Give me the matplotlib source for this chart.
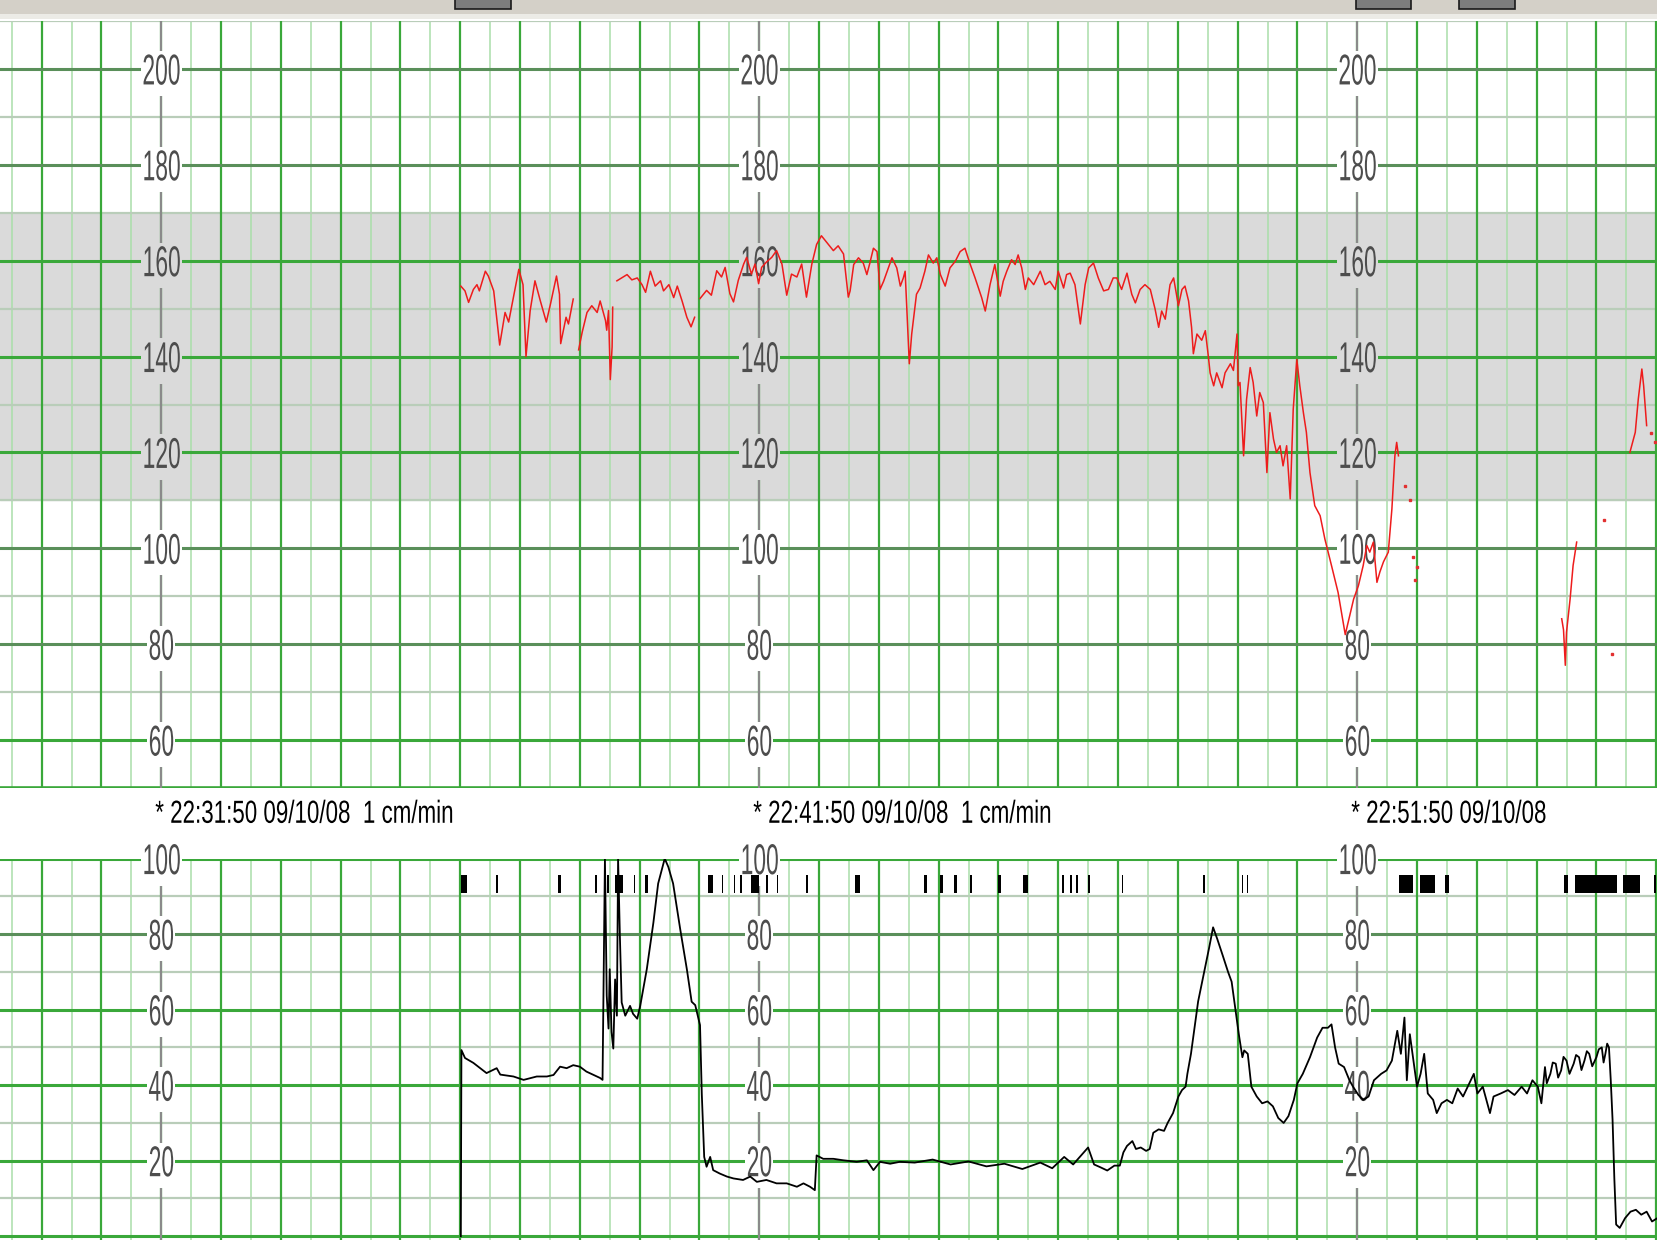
import numpy as np
import matplotlib.pyplot as plt
import matplotlib.patheffects as pe
from matplotlib.patches import Rectangle
from matplotlib.transforms import Affine2D

nan = np.nan

# ---- fetal heart rate (minutes from 22:31:50, bpm); nan = signal loss
fhr_time = [5.01, 5.08, 5.14, 5.22, 5.28, 5.32, 5.42, 5.47, 5.56, 5.66, 5.75, 5.81, 5.98, 6.05, 6.10,
            6.17, 6.25, 6.34, 6.44, 6.51, 6.61, 6.66, 6.68, 6.77, 6.81, 6.89, nan,
            6.98, 7.04, 7.12, 7.20, 7.29, 7.34, 7.43, 7.45, 7.48, 7.51, 7.54, 7.55, nan,
            7.62, 7.70, 7.79, 7.87, 7.96, 8.04, 8.10, 8.18, 8.26, 8.35, 8.40, 8.49, 8.57, 8.63,
            8.71, 8.79, 8.86, 8.92, nan,
            9.01, 9.12, 9.20, 9.29, 9.37, 9.43, 9.51, 9.57, 9.65, 9.74, 9.79, 9.87, 9.93, 9.99,
            10.04, 10.12, 10.21, 10.29, 10.38, 10.46, 10.54, 10.63, 10.71, 10.79, 10.88, 10.96,
            11.04, 11.13, 11.24, 11.32, 11.41, 11.49,
            11.52, 11.58, 11.66, 11.74, 11.80, 11.85, 11.91, 11.97, 12.02, 12.08, 12.16, 12.22,
            12.30, 12.36, 12.41, 12.44, 12.51, 12.55, 12.63, 12.69, 12.77, 12.83, 12.91, 12.97,
            13.03, 13.11, 13.19, 13.28, 13.36, 13.44, 13.53, 13.61, 13.72, 13.78, 13.86, 13.94,
            14.03, 14.08, 14.14, 14.22, 14.28, 14.33, 14.39, 14.45, 14.50, 14.59, 14.70, 14.78,
            14.86, 14.95, 15.00, 15.09, 15.14, 15.20, 15.28, 15.37, 15.45, 15.51, 15.59, 15.67,
            15.76, 15.84, 15.92, 15.98, 16.06, 16.15, 16.23, 16.29, 16.37, 16.45, 16.54, 16.62,
            16.68, 16.73, 16.79, 16.87, 16.93, 17.01, 17.07, 17.12, 17.18, 17.23, 17.26, 17.32,
            17.40, 17.46, 17.51, 17.54, 17.60, 17.65, 17.74, 17.79, 17.88, 17.93, 17.99, 18.01,
            18.04, 18.10, 18.15, 18.21, 18.26, 18.32, 18.37, 18.43, 18.49, 18.54, 18.60, 18.65,
            18.71, 18.76, 18.82, 18.88, 18.93, 18.99, 19.04, 19.10, 19.15, 19.21, 19.29, 19.38,
            19.46, 19.57, 19.68, 19.80, 19.94, 20.02, 20.10, 20.16, 20.21, 20.27, 20.33, 20.38,
            20.44, 20.52, 20.58, 20.63, 20.66, 20.69, nan,
            23.42, 23.45, 23.48, 23.50, 23.56, 23.61, 23.67, nan,
            24.56, 24.65, 24.70, 24.76, 24.79, 24.84]
fhr_bpm = [154.7, 153.7, 151.3, 154.0, 155.0, 153.7, 157.8, 156.8, 153.7, 142.4, 149.2, 147.2, 158.2, 155.0, 140.0,
           149.6, 155.8, 151.6, 147.2, 151.0, 156.8, 153.0, 142.7, 148.2, 146.8, 152.0, nan,
           141.4, 145.1, 149.2, 150.6, 149.2, 151.6, 147.5, 145.5, 149.6, 135.2, 142.0, 150.3, nan,
           155.8, 156.4, 157.1, 156.0, 156.4, 155.0, 153.4, 157.8, 154.7, 155.8, 153.7, 155.0, 152.3, 154.7,
           151.6, 148.2, 146.2, 148.2, nan,
           152.1, 153.8, 152.8, 157.9, 156.6, 158.6, 153.1, 151.4, 155.9, 159.3, 160.7, 157.2, 159.3, 155.2,
           158.6, 159.7, 160.7, 162.1, 159.3, 152.8, 157.2, 156.6, 159.3, 152.4, 159.3, 163.4,
           165.2, 163.8, 162.1, 163.1, 161.4, 152.4,
           153.7, 159.2, 160.6, 159.5, 157.1, 159.5, 162.6, 161.9, 154.0, 155.7, 158.5, 160.6,
           158.5, 154.7, 156.4, 157.8, 138.5, 144.7, 153.0, 154.3, 157.8, 161.2, 159.5, 160.6,
           157.1, 154.7, 158.5, 159.9, 161.9, 162.6, 159.2, 156.4, 152.3, 149.5, 155.0, 159.2,
           152.6, 155.7, 157.8, 160.2, 159.2, 161.2, 158.5, 154.0, 156.4, 155.0, 157.8, 155.0,
           155.7, 154.0, 157.8, 154.3, 157.1, 157.4, 155.0, 146.8, 155.0, 158.5, 159.5, 156.4,
           153.7, 154.0, 156.4, 156.4, 154.0, 157.4, 153.0, 151.2, 154.0, 155.0, 154.0, 149.9,
           146.1, 149.5, 147.8, 155.0, 156.4, 150.6, 154.0, 154.7, 151.6, 146.1, 140.6, 144.7,
           143.4, 145.4, 140.1, 136.6, 133.9, 136.6, 133.5, 136.6, 138.5, 137.1, 144.7, 133.9,
           134.6, 119.3, 131.1, 137.7, 134.6, 127.6, 132.5, 130.4, 115.8, 128.3, 122.8, 120.0,
           121.4, 117.2, 121.4, 110.3, 129.0, 139.4, 133.9, 128.3, 124.2, 115.8, 108.9, 106.8,
           101.9, 96.4, 90.8, 82.0, 89.4, 92.2, 96.4, 100.6, 99.2, 101.3, 92.9, 95.1,
           97.2, 99.2, 108.2, 119.3, 122.1, 119.3, nan,
           85.3, 83.0, 75.6, 82.5, 89.4, 96.4, 101.3, nan,
           120.0, 124.2, 131.1, 137.4, 133.9, 125.6]

# isolated FHR samples
dot_time = [20.80, 20.88, 20.94, 20.97, 21.00, 24.12, 24.26, 24.92, 24.98]
dot_bpm = [112.9, 110.1, 98.2, 93.3, 96.1, 105.9, 77.9, 124.1, 122.1]

# ---- uterine activity (TOCO)
toco_time = [5.01, 5.02, 5.08, 5.22, 5.44, 5.61, 5.67, 5.89, 6.06, 6.28, 6.45, 6.56, 6.67, 6.78,
             6.89, 7.00, 7.11, 7.23, 7.34, 7.38, 7.40, 7.42, 7.45, 7.48, 7.50, 7.53, 7.56, 7.59,
             7.62, 7.64, 7.67, 7.70, 7.76, 7.84, 7.89, 7.96, 8.01, 8.12, 8.23, 8.31, 8.42, 8.48,
             8.56, 8.68, 8.79, 8.87, 8.93, 9.01, 9.04, 9.08, 9.12, 9.18, 9.23, 9.34, 9.46, 9.57,
             9.73, 9.85, 9.96, 10.12, 10.29, 10.46, 10.63, 10.74, 10.85, 10.93, 10.96, 11.07,
             11.24, 11.41, 11.63, 11.80, 11.91, 12.02, 12.19, 12.35, 12.6, 12.9, 13.2, 13.5,
             13.8, 14.1, 14.4, 14.7, 14.9, 15.1, 15.25, 15.5, 15.6,
             15.70, 15.82, 15.94, 16.03, 16.09, 16.15, 16.24, 16.30, 16.38, 16.47, 16.53, 16.59,
             16.68, 16.77, 16.83, 16.92, 17.01, 17.07, 17.13, 17.16, 17.22, 17.28, 17.34, 17.43,
             17.52, 17.59, 17.66, 17.75, 17.84, 17.90, 17.96, 18.02, 18.08, 18.11, 18.17, 18.23,
             18.32, 18.41, 18.50, 18.59, 18.68, 18.77, 18.85, 18.94, 19.00, 19.09, 19.21, 19.33,
             19.42, 19.51, 19.57, 19.63, 19.69, 19.78, 19.87, 19.93, 20.02, 20.10, 20.19, 20.28,
             20.40, 20.49, 20.58, 20.67, 20.73, 20.79, 20.83, 20.88, 20.94, 21.00, 21.06, 21.12,
             21.18, 21.27, 21.33, 21.41, 21.50, 21.59, 21.68, 21.77, 21.86, 21.95, 22.01, 22.10,
             22.22, 22.28, 22.40, 22.52, 22.63, 22.75, 22.84, 22.93, 23.02, 23.08, 23.14, 23.17,
             23.23, 23.27, 23.32, 23.36, 23.41, 23.45, 23.50, 23.55, 23.62, 23.66, 23.71, 23.75,
             23.80, 23.84, 23.88, 23.93, 24.00, 24.04, 24.09, 24.12, 24.15, 24.18, 24.21, 24.24,
             24.27, 24.30, 24.33, 24.39, 24.48, 24.57, 24.66, 24.75, 24.84, 24.93, 25.02]
toco_val = [0.0, 49.3, 47.2, 45.9, 43.2, 44.5, 42.8, 42.3, 41.4, 42.3, 42.3, 42.7, 44.9, 44.5,
            45.3, 44.9, 43.6, 42.7, 41.9, 41.4, 70.7, 100.0, 63.7, 55.0, 70.7, 54.1, 49.7, 68.0,
            58.4, 100.0, 79.5, 61.9, 58.4, 61.0, 58.9, 57.6, 61.0, 70.7, 83.0, 93.4, 100.0, 97.8,
            93.4, 81.2, 70.7, 62.1, 61.2, 55.9, 37.6, 21.0, 18.4, 21.0, 17.5, 16.6, 15.8, 15.3,
            14.9, 15.8, 14.4, 14.9, 14.0, 14.0, 13.1, 14.0, 13.1, 12.2, 21.4, 20.5,
            20.5, 20.1, 19.7, 20.1, 17.5, 19.7, 19.2, 19.7, 19.5, 20.3, 19.0, 19.8,
            18.5, 19.2, 17.8, 19.5, 18.0, 21.0, 19.0, 23.5, 19.0,
            18.3, 17.4, 18.7, 18.7, 22.2, 23.9, 25.2, 23.1, 23.5, 22.6, 23.1, 27.4,
            28.3, 27.9, 30.0, 32.6, 37.0, 38.7, 39.6, 43.0, 48.3, 55.2, 62.2, 69.2,
            76.1, 81.8, 78.7, 74.4, 70.0, 67.4, 60.5, 53.5, 47.4, 49.2, 48.3, 39.6,
            37.0, 35.2, 35.7, 34.4, 31.3, 30.0, 31.8, 36.1, 40.5, 43.0, 47.4, 52.6,
            55.2, 55.2, 56.1, 50.0, 45.7, 44.8, 41.3, 39.6, 37.4, 36.1, 37.0, 41.3,
            43.0, 43.9, 46.5, 54.4, 48.3, 57.9, 41.3, 53.5, 46.5, 39.6, 43.0, 48.3,
            37.8, 36.1, 32.6, 35.2, 36.1, 35.2, 39.1, 37.0, 40.0, 43.0, 37.8, 39.6,
            32.6, 37.0, 37.8, 38.7, 37.4, 39.6, 37.8, 41.3, 39.6, 35.2, 44.8, 40.5,
            43.0, 46.0, 45.7, 42.0, 43.9, 47.5, 46.5, 43.0, 45.7, 48.0, 47.4, 44.0,
            46.5, 49.0, 48.3, 45.0, 47.4, 49.5, 50.0, 46.0, 48.3, 51.0, 50.0, 41.3,
            30.9, 15.2, 3.1, 2.2, 4.8, 6.5, 7.0, 5.7, 6.5, 3.9, 4.8]

# fetal movement marks: start (min) and duration (min)
move_start = [5.01, 5.60, 6.63, 7.25, 7.45, 7.59, 7.90, 8.09, 9.15, 9.37, 9.57, 9.68, 9.87, 10.12,
              10.29, 10.79, 11.60, 12.76, 13.03, 13.26, 13.52, 14.00, 14.41, 15.06, 15.19, 15.30,
              15.50, 16.07, 17.42, 18.07, 18.15, 20.70, 21.05, 21.47, 23.45, 23.64, 24.45, 24.96]
move_len = [0.10, 0.03, 0.06, 0.03, 0.03, 0.13, 0.03, 0.05, 0.08, 0.03, 0.03, 0.03, 0.12, 0.03,
            0.03, 0.03, 0.09, 0.04, 0.04, 0.04, 0.04, 0.05, 0.09, 0.03, 0.04, 0.03,
            0.03, 0.02, 0.03, 0.02, 0.02, 0.24, 0.25, 0.07, 0.07, 0.70, 0.28, 0.03]

fhr_labels = [200, 180, 160, 140, 120, 100, 80, 60]
toco_labels = [100, 80, 60, 40, 20]
label_minutes = [0, 10, 20]
stamp_minutes = [-0.1, 9.9, 19.9]
stamps = ['* 22:31:50 09/10/08  1 cm/min', '* 22:41:50 09/10/08  1 cm/min', '* 22:51:50 09/10/08']

W, H = 1658, 1240
T0, T1 = -2.696, 25.03
band_color = '#dadada'
green = '#3aa83a'
dark_green = '#5a8f5a'
minor_v = '#a9dea9'
minor_h = '#b9cdb9'
FONT = 'Liberation Sans'


class Squeeze(pe.AbstractPathEffect):
    """Narrow the drawn glyphs horizontally, like the printout's squashed font."""

    def __init__(self, sx, keep_left=False):
        super().__init__()
        self.sx = sx
        self.keep_left = keep_left

    def draw_path(self, renderer, gc, tpath, affine, rgbFace=None):
        ext = tpath.get_extents()
        x0 = 0.0 if self.keep_left else (ext.x0 + ext.x1) / 2
        squeeze = Affine2D().translate(-x0, 0).scale(self.sx, 1).translate(x0, 0)
        renderer.draw_path(gc, tpath, squeeze + affine, rgbFace)


fig = plt.figure(figsize=(W / 100, H / 100), dpi=100)

# window header strip
fig.patches.append(Rectangle((0, 1 - 14 / H), 1, 14 / H, transform=fig.transFigure,
                             facecolor='#d4d0c8', edgecolor='none', zorder=0))
fig.patches.append(Rectangle((0, 1 - 19 / H), 1, 5 / H, transform=fig.transFigure,
                             facecolor='#ecebe6', edgecolor='none', zorder=0))
for x0, x1 in [(455, 511), (1356, 1411), (1459, 1515)]:
    fig.patches.append(Rectangle((x0 / W, 1 - 9 / H), (x1 - x0) / W, 12 / H, transform=fig.transFigure,
                                 facecolor='#7d7d7d', edgecolor='#1a1a1a', linewidth=1.2, zorder=1))

ax_top = fig.add_axes([0, 1 - 788 / H, 1, (788 - 21) / H])
ax_bot = fig.add_axes([0, 0, 1, 1 - 858.6 / H])


def draw_grid(ax, lo, hi, major_step, dark_rows):
    ax.set_xlim(T0, T1)
    ax.set_ylim(lo, hi)
    ax.axis('off')
    for m in np.arange(-2.5, 25.5, 1.0):
        ax.axvline(m, color=minor_v, lw=1.1, zorder=1)
    for m in np.arange(-2, 26, 1):
        ax.axvline(m, color=green, lw=1.6, zorder=2)
    for v in np.arange(lo, hi + 1, 10):
        if v % major_step == 0:
            ax.axhline(v, color=dark_green if v in dark_rows else green, lw=2.2, zorder=2)
        else:
            ax.axhline(v, color=minor_h, lw=1.6, zorder=1.5)
    for m in label_minutes:
        ax.axvline(m, color='#8a8a8a', lw=1.5, zorder=2.5)


def scale_label(ax, m, v, bg):
    t = ax.text(m, v, str(v), family=FONT, fontsize=31, color='#4d4d4d', ha='center',
                va='center_baseline', zorder=3, clip_on=False,
                bbox=dict(facecolor=bg, edgecolor='none', pad=2))
    t.set_path_effects([Squeeze(0.53)])
    t.get_bbox_patch().set_path_effects([Squeeze(0.53)])


# ---- FHR panel
ax_top.axhspan(110, 170, color=band_color, zorder=0)
draw_grid(ax_top, 50, 210, 20, [200, 180, 100, 80])
ax_top.axhline(50, color=green, lw=2.6, zorder=2)
for m in label_minutes:
    for v in fhr_labels:
        scale_label(ax_top, m, v, band_color if 110 < v < 170 else 'white')
ax_top.plot(fhr_time, fhr_bpm, color='#ee1c1c', lw=1.1, zorder=4)
ax_top.plot(dot_time, dot_bpm, 's', color='#e23030', ms=2, zorder=4)

# ---- TOCO panel
draw_grid(ax_bot, 0, 100, 20, [80])
ax_bot.set_ylim(-1, 100)
ax_bot.axhline(100, color=green, lw=2.6, zorder=2)
for m in label_minutes:
    for v in toco_labels:
        scale_label(ax_bot, m, v, 'white')
ax_bot.bar(move_start, 4.7, width=move_len, bottom=91, align='edge', color='black', zorder=4)
ax_bot.plot(toco_time, toco_val, color='black', lw=1.3, zorder=4)

for m, s in zip(stamp_minutes, stamps):
    st = ax_bot.text(m, 111.6, s, family=FONT, fontsize=23, color='black', ha='left', va='center',
                     clip_on=False)
    st.set_path_effects([Squeeze(0.70, keep_left=True)])

fig.savefig('out.png', dpi=100)
